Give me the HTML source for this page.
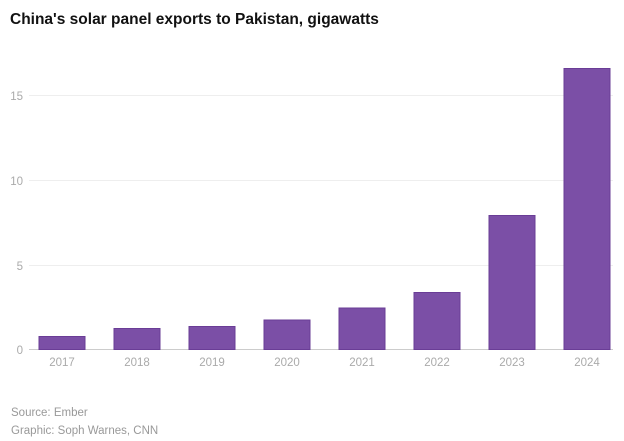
<!DOCTYPE html>
<html><head><meta charset="utf-8"><style>
html,body{margin:0;padding:0;background:#fff;width:624px;height:441px;overflow:hidden}
</style></head><body>
<svg width="624" height="441" viewBox="0 0 624 441" xmlns="http://www.w3.org/2000/svg" font-family="Liberation Sans, sans-serif">
<text x="10" y="24" font-size="15.5" font-weight="bold" fill="#111">China's solar panel exports to Pakistan, gigawatts</text>
<g stroke="#eeeeee" stroke-width="1">
<line x1="29" x2="613" y1="95.5" y2="95.5"/>
<line x1="29" x2="613" y1="180.5" y2="180.5"/>
<line x1="29" x2="613" y1="265.5" y2="265.5"/>
</g>
<line x1="29" x2="613" y1="349.5" y2="349.5" stroke="#cccccc"/>
<g font-size="11.5" fill="#aaaaaa" text-anchor="end">
<text x="23" y="100">15</text>
<text x="23" y="185">10</text>
<text x="23" y="270">5</text>
<text x="23" y="354">0</text>
</g>
<g fill="#7b4fa6" stroke="#6a3d96" stroke-width="1">
<rect x="39" y="336.5" width="46" height="13"/>
<rect x="114" y="328.5" width="46" height="21"/>
<rect x="189" y="326.5" width="46" height="23"/>
<rect x="264" y="320" width="46" height="29.5"/>
<rect x="339" y="308" width="46" height="41.5"/>
<rect x="414" y="292.5" width="46" height="57"/>
<rect x="489" y="215.5" width="46" height="134"/>
<rect x="564" y="68.5" width="46" height="281"/>
</g>
<g font-size="11.5" fill="#aaaaaa" text-anchor="middle">
<text x="62" y="366">2017</text>
<text x="137" y="366">2018</text>
<text x="212" y="366">2019</text>
<text x="287" y="366">2020</text>
<text x="362" y="366">2021</text>
<text x="437" y="366">2022</text>
<text x="512" y="366">2023</text>
<text x="587" y="366">2024</text>
</g>
<g font-size="11.5" fill="#999999">
<text x="11" y="416">Source: Ember</text>
<text x="11" y="434">Graphic: Soph Warnes, CNN</text>
</g>
</svg>
</body></html>
